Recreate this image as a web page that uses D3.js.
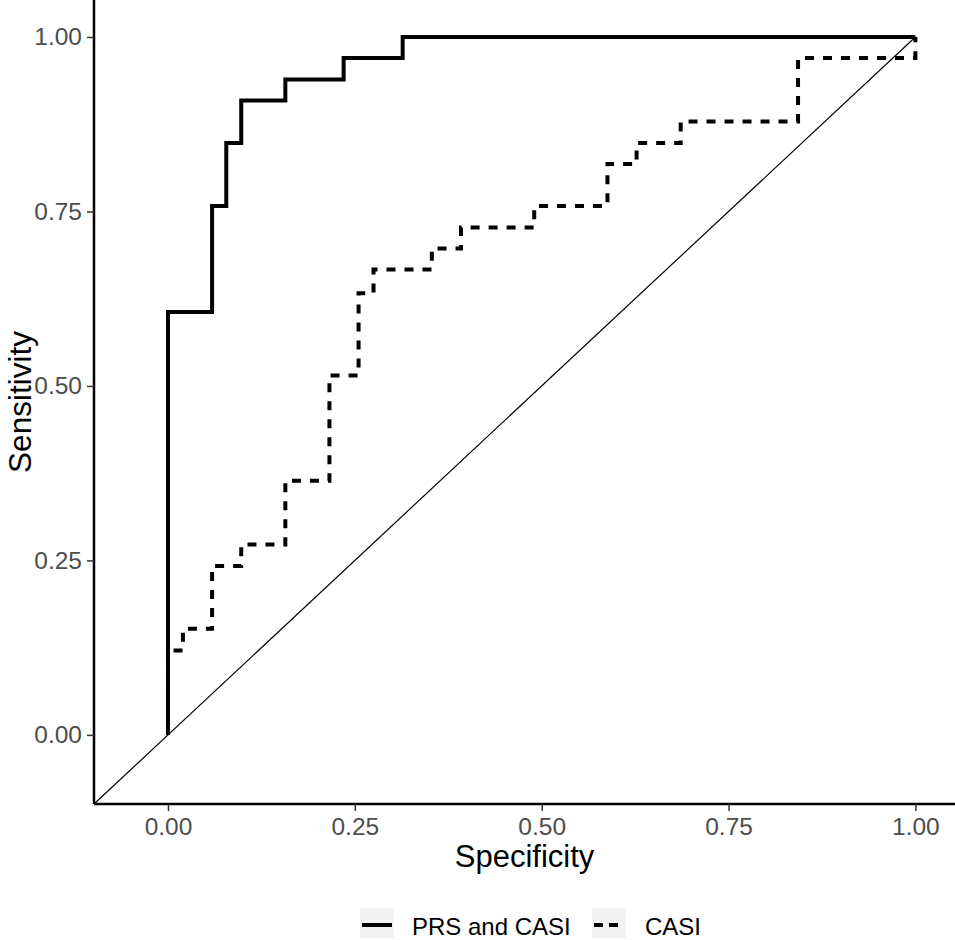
<!DOCTYPE html>
<html>
<head>
<meta charset="utf-8">
<script src="https://cdn.jsdelivr.net/npm/d3@7"></script>
<style>
  body { margin: 0; background: #fff; }
  text { font-family: "Liberation Sans", Arial, sans-serif; }
</style>
</head>
<body>
<svg id="chart" width="955" height="940"></svg>
<script>
// ROC step vertices (false positive rate, sensitivity)
const prsCasiX = [0, 0, 0.059, 0.078, 0.098, 0.157, 0.235, 0.314, 1];
const prsCasiY = [0, 0.606, 0.758, 0.848, 0.909, 0.939, 0.970, 1, 1];

const casiX = [0, 0, 0.020, 0.059, 0.098, 0.157, 0.216, 0.255, 0.275, 0.353, 0.392, 0.490, 0.588, 0.627, 0.686, 0.843, 1];
const casiY = [0, 0.121, 0.152, 0.242, 0.273, 0.364, 0.515, 0.633, 0.667, 0.697, 0.727, 0.758, 0.818, 0.848, 0.879, 0.970, 1];

const tickValues = [0, 0.25, 0.5, 0.75, 1];
const seriesNames = ['PRS and CASI', 'CASI'];

const svg = d3.select('#chart');
const panelLeft = 94, panelRight = 955, panelTop = 0, panelBottom = 804;

const x = d3.scaleLinear().domain([-0.099, 1.053]).range([panelLeft, panelRight]);
const y = d3.scaleLinear().domain([-0.099, 1.053]).range([panelBottom, panelTop]);

// reference diagonal
svg.append('line')
  .attr('x1', x(-0.099)).attr('y1', y(-0.099))
  .attr('x2', x(1)).attr('y2', y(1))
  .attr('stroke', '#000')
  .attr('stroke-width', 1.2);

const line = d3.line()
  .x(d => x(d[0]))
  .y(d => y(d[1]))
  .curve(d3.curveStepAfter);

const casiPts = d3.zip(casiX, casiY);
const prsPts = d3.zip(prsCasiX, prsCasiY);

svg.append('path')
  .datum(casiPts)
  .attr('d', line)
  .attr('fill', 'none')
  .attr('stroke', '#000')
  .attr('stroke-width', 4)
  .attr('stroke-dasharray', '9,9');

svg.append('path')
  .datum(prsPts)
  .attr('d', line)
  .attr('fill', 'none')
  .attr('stroke', '#000')
  .attr('stroke-width', 4);

// axes
const xAxis = svg.append('g')
  .attr('transform', `translate(0,${panelBottom})`)
  .call(d3.axisBottom(x).tickValues(tickValues).tickFormat(d3.format('.2f')).tickSize(7).tickPadding(7));
const yAxis = svg.append('g')
  .attr('transform', `translate(${panelLeft},0)`)
  .call(d3.axisLeft(y).tickValues(tickValues).tickFormat(d3.format('.2f')).tickSize(7).tickPadding(5));

[xAxis, yAxis].forEach(a => {
  a.select('.domain').attr('stroke', '#000').attr('stroke-width', 2.5);
  a.selectAll('.tick line').attr('stroke', '#333').attr('stroke-width', 1.5);
  a.selectAll('.tick text')
    .attr('fill', '#4D4D4D')
    .style('font-size', '24.5px')
    .style('font-family', '"Liberation Sans", Arial, sans-serif');
});
xAxis.select('.domain').attr('d', `M${panelLeft},0H${panelRight}`);
yAxis.select('.domain').attr('d', `M0,${panelBottom}V${panelTop}`);

// axis titles
svg.append('text')
  .attr('x', (panelLeft + panelRight) / 2)
  .attr('y', 867)
  .attr('text-anchor', 'middle')
  .style('font-size', '31px')
  .text('Specificity');

svg.append('text')
  .attr('transform', `translate(31,${(panelTop + panelBottom) / 2}) rotate(-90)`)
  .attr('text-anchor', 'middle')
  .style('font-size', '31.5px')
  .text('Sensitivity');

// legend
const legend = svg.append('g');
const keys = [
  { name: seriesNames[0], kx: 360, tx: 412, dash: null },
  { name: seriesNames[1], kx: 592, tx: 645, dash: '9,6' }
];
keys.forEach(k => {
  legend.append('rect')
    .attr('x', k.kx).attr('y', 908)
    .attr('width', 34).attr('height', 30)
    .attr('fill', '#F2F2F2');
  legend.append('line')
    .attr('x1', k.kx + 2).attr('x2', k.kx + 32)
    .attr('y1', 925).attr('y2', 925)
    .attr('stroke', '#000')
    .attr('stroke-width', 4)
    .attr('stroke-dasharray', k.dash);
  legend.append('text')
    .attr('x', k.tx).attr('y', 935)
    .style('font-size', '24px')
    .text(k.name);
});
</script>
</body>
</html>
